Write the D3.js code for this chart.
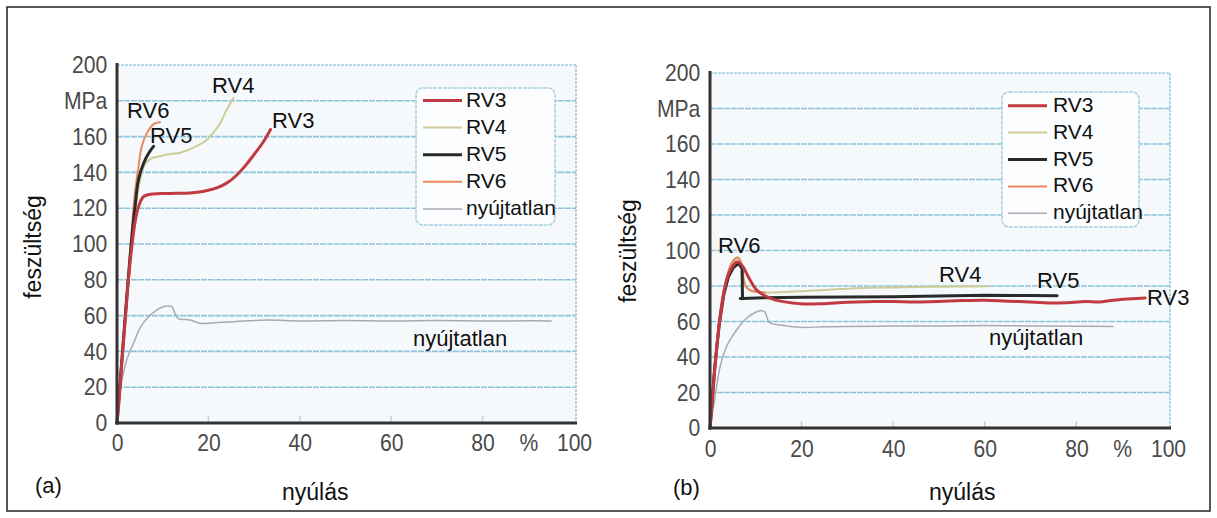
<!DOCTYPE html>
<html><head><meta charset="utf-8">
<script src="https://cdn.jsdelivr.net/npm/d3@7"></script>
<style>
body{margin:0;background:#fff;}
svg{display:block;}
text{font-family:"Liberation Sans", Arial, Helvetica, sans-serif;}
</style></head><body>
<svg id="chart" width="1217" height="518"></svg>
<script>
// ---------- data ----------
const seriesNames = ["RV3", "RV4", "RV5", "RV6", "nyújtatlan"];
const yTicks = [0, 20, 40, 60, 80, 100, 120, 140, 160, 180, 200];
const yTickLabels = ["0", "20", "40", "60", "80", "100", "120", "140", "160", "MPa", "200"];
const xTicks = [0, 20, 40, 60, 80, 90, 100];
const xTickLabels = ["0", "20", "40", "60", "80", "%", "100"];
const panelLetters = ["(a)", "(b)"];
const xTitle = "nyúlás";
const yTitle = "feszültség";

// panel (a): [nyúlás %, feszültség MPa]
const a_RV3 = [[0,0],[0.5,14],[1,32],[1.5,48],[2,64],[2.5,80],[3,93],[3.5,104],[4,113],[4.5,119],[5,123],[5.5,125.5],[6,126.8],[7,127.7],[8,128],[10,128.2],[13,128.3],[16,128.5],[18,129],[20,130],[22,131.5],[24,134],[26,138],[28,143.5],[30,150],[32,157],[33.6,164]];
const a_RV4 = [[0,0],[1,33],[2,66],[3,97],[4,120],[5,135],[6,144],[7,147],[8,148.3],[9.4,149],[11,150],[13.8,151],[16,153],[18,155.5],[19.6,158],[21,162],[22.6,167.6],[24,175],[25.5,181.5]];
const a_RV5 = [[0,0],[1,33],[2,66],[3,97],[4,122],[4.7,136],[5.8,145],[6.9,150.6],[8,154.5]];
const a_RV6 = [[0,0],[1,34],[2,68],[3,100],[3.9,128],[4.7,143],[5.4,154.4],[6.5,161.8],[8,167],[9.4,168]];
const a_NY = [[0,0],[0.3,8],[0.7,18.4],[1.4,28],[2.1,35],[3,41],[3.6,44.5],[5,52.9],[6.9,59.4],[8.7,63.1],[10,64.8],[10.9,65.4],[12,65],[12.7,61.2],[13.4,58.5],[16,57.5],[18.2,55.7],[22,56.2],[25.5,56.6],[32.8,57.5],[40,57],[50,57.3],[60,57],[70,57.2],[80,57],[90,57.1],[95,57]];

// panel (b)
const b_RV3 = [[0,0],[0.5,15],[1,32],[1.5,46],[2,58],[2.5,68],[3,76],[3.5,82],[4,86.5],[5,91.5],[5.8,93.5],[6.5,93],[7.3,90.5],[8,87],[8.75,83.4],[10.2,77.7],[12.4,74],[14,72.3],[16,71.2],[19.7,70],[24,70],[28,70.6],[32,71],[36,71.2],[40,71.2],[45,71],[50,71.3],[55,71.8],[60,72],[65,71.4],[70,71],[75,70.4],[78,70.6],[82,71.2],[85,71],[88,72],[92,72.8],[95,73.3]];
const b_RV4 = [[0,0],[1,34],[2,60],[3,77],[4,88],[5,94],[6,96.3],[6.6,95],[7.2,87],[7.7,80],[8.5,78],[9.5,77],[12.4,76.3],[15,76.5],[19.7,77],[25,77.8],[30,78.5],[35,79],[40,79.2],[45,79.4],[50,79.6],[55,79.7],[61,79.8]];
const b_RV5 = [[0,0],[1,33],[2,58],[3,75],[4,85],[5,90],[6.2,92.8],[7,90],[7.1,72.8],[6.6,73],[7.1,73],[12,73.4],[20,73.6],[30,73.8],[40,74],[50,74.3],[60,74.8],[70,74.6],[75.8,74.5]];
const b_RV6 = [[0,0],[1,35],[2,61],[3,78],[4,88],[5,94],[6,95.8],[6.6,94],[7.2,86],[7.8,80],[8.8,77.5],[10,76.8],[12,76.3]];
const b_NY = [[0,0],[0.5,8],[1.1,17.6],[2.2,34.5],[3.6,45.8],[5.8,55.2],[8,61.8],[10.2,65.5],[11.3,66],[12,65.3],[12.8,60],[13.5,58.8],[15.3,58],[19.7,56.7],[24.8,57],[30,57.2],[39.4,57.4],[50,57.5],[60,57.8],[70,57.5],[80,57.3],[88,57.2]];

// ---------- styles ----------
const styles = {
  "RV3": {color: "#c23a41", width: 3},
  "RV4": {color: "#cfcc98", width: 2},
  "RV5": {color: "#2a2a2a", width: 3},
  "RV6": {color: "#e9895a", width: 2},
  "nyújtatlan": {color: "#a8a9b4", width: 1.5}
};
const drawOrder = ["nyújtatlan", "RV4", "RV6", "RV5", "RV3"];

const svg = d3.select("#chart");
svg.append("rect").attr("x", 7).attr("y", 7).attr("width", 1203).attr("height", 504)
  .attr("fill", "#fff").attr("stroke", "#222").attr("stroke-width", 1.5);

const panels = [
  {
    xr: [117, 574], yr: [423, 65], xPad: 11,
    data: {"RV3": a_RV3, "RV4": a_RV4, "RV5": a_RV5, "RV6": a_RV6, "nyújtatlan": a_NY},
    legend: {x0: 416, y0: 88, x1: 555, y1: 225, lx0: 423, lx1: 462, tx: 466, base: 106.5, step: 27.1},
    ann: {"RV4": [212, 93], "RV6": [127, 118], "RV5": [150, 143], "RV3": [272, 128], "nyújtatlan": [413, 346]},
    letter: [35, 493], xt: [282, 500], yt: [41, 247]
  },
  {
    xr: [710, 1168], yr: [428, 73], xPad: 12,
    data: {"RV3": b_RV3, "RV4": b_RV4, "RV5": b_RV5, "RV6": b_RV6, "nyújtatlan": b_NY},
    legend: {x0: 1002, y0: 92, x1: 1139, y1: 227, lx0: 1008, lx1: 1047, tx: 1053, base: 111.7, step: 26.9},
    ann: {"RV6": [718, 252.7], "RV4": [939, 281.7], "RV5": [1037, 288.3], "RV3": [1147, 305], "nyújtatlan": [989, 345]},
    letter: [673, 495], xt: [929, 500], yt: [636, 251]
  }
];

panels.forEach((p, pi) => {
  const x = d3.scaleLinear().domain([0, 100]).range(p.xr);
  const y = d3.scaleLinear().domain([0, 200]).range(p.yr);
  const g = svg.append("g");

  // plot background
  g.append("rect").attr("x", x(0)).attr("y", y(200)).attr("width", x(100) - x(0) + 2)
    .attr("height", y(0) - y(200)).attr("fill", "#f6f9fb");

  // gridlines
  g.selectAll(".grid").data(yTicks.filter(d => d > 0 && d < 200)).join("line")
    .attr("x1", x(0)).attr("x2", x(100) + 2).attr("y1", d => y(d)).attr("y2", d => y(d))
    .attr("stroke", "#8cc4dc").attr("stroke-width", 1.6).attr("stroke-dasharray", "6,1");
  // top & right border
  g.append("line").attr("x1", x(0)).attr("x2", x(100) + 2).attr("y1", y(200)).attr("y2", y(200))
    .attr("stroke", "#9fcbdf").attr("stroke-width", 1.6).attr("stroke-dasharray", "3,1");
  g.append("line").attr("x1", x(100) + 2).attr("x2", x(100) + 2).attr("y1", y(200)).attr("y2", y(0))
    .attr("stroke", "#9fcbdf").attr("stroke-width", 1.6).attr("stroke-dasharray", "3,1");
  // faint x ticks
  g.selectAll(".xt").data(xTicks.filter(d => d > 0 && d < 90)).join("line")
    .attr("x1", d => x(d)).attr("x2", d => x(d)).attr("y1", y(0)).attr("y2", y(0) - 7)
    .attr("stroke", "#b5d6e4").attr("stroke-width", 1.5);

  // legend
  const L = p.legend;
  g.append("rect").attr("x", L.x0).attr("y", L.y0).attr("width", L.x1 - L.x0).attr("height", L.y1 - L.y0)
    .attr("rx", 7).attr("fill", "#fbfdfe").attr("stroke", "#a6cfe1").attr("stroke-width", 1.5)
    .attr("stroke-dasharray", "4,1");
  seriesNames.forEach((n, i) => {
    const by = L.base + i * L.step;
    g.append("line").attr("x1", L.lx0).attr("x2", L.lx1).attr("y1", by - 6).attr("y2", by - 6)
      .attr("stroke", styles[n].color).attr("stroke-width", styles[n].width);
    g.append("text").attr("x", L.tx).attr("y", by).attr("font-size", 21).attr("fill", "#111").text(n);
  });

  // curves
  const lineGen = d3.line().x(d => x(d[0])).y(d => y(d[1])).curve(d3.curveCatmullRom.alpha(0.5));
  const lineLin = d3.line().x(d => x(d[0])).y(d => y(d[1]));
  drawOrder.forEach(n => {
    const data = p.data[n];
    const gen = (pi === 1 && n === "RV5") ? lineLin : lineGen;
    g.append("path").datum(data).attr("d", gen).attr("fill", "none")
      .attr("stroke", styles[n].color).attr("stroke-width", styles[n].width)
      .attr("stroke-linejoin", "round").attr("stroke-linecap", "round");
  });

  // axes
  const yAxis = d3.axisLeft(y).tickValues(yTicks).tickFormat((d, i) => yTickLabels[i]).tickSize(0).tickPadding(11);
  const ya = g.append("g").attr("transform", `translate(${x(0)},0)`).call(yAxis);
  ya.select(".domain").remove();
  ya.selectAll("text").attr("font-size", 24).attr("fill", "#4a4a4a")
    .attr("font-family", "'Liberation Sans', Arial, sans-serif").attr("transform", "scale(0.88,1)");

  const xAxis = d3.axisBottom(x).tickValues(xTicks).tickFormat((d, i) => xTickLabels[i]).tickSize(0).tickPadding(p.xPad);
  const xa = g.append("g").attr("transform", `translate(0,${y(0)})`).call(xAxis);
  xa.select(".domain").remove();
  xa.selectAll(".tick text").attr("font-size", 24).attr("fill", "#4a4a4a")
    .attr("font-family", "'Liberation Sans', Arial, sans-serif");
  xa.selectAll(".tick").each(function() {
    const t = d3.select(this);
    const tr = t.attr("transform");
    t.select("text").attr("transform", "scale(0.88,1)");
  });

  // axis lines
  g.append("line").attr("x1", x(0)).attr("x2", x(0)).attr("y1", y(0) + 1.5).attr("y2", y(200) - 2)
    .attr("stroke", "#333").attr("stroke-width", 3);
  g.append("line").attr("x1", x(0) - 1.5).attr("x2", x(100) + 3).attr("y1", y(0)).attr("y2", y(0))
    .attr("stroke", "#333").attr("stroke-width", 3);

  // annotations
  Object.entries(p.ann).forEach(([n, pos]) => {
    g.append("text").attr("x", pos[0]).attr("y", pos[1]).attr("font-size", 22).attr("fill", "#111").text(n);
  });
  g.append("text").attr("x", p.letter[0]).attr("y", p.letter[1]).attr("font-size", 22).attr("fill", "#111").text(panelLetters[pi]);
  g.append("text").attr("x", p.xt[0]).attr("y", p.xt[1]).attr("font-size", 23).attr("fill", "#111").text(xTitle);
  g.append("text").attr("transform", `translate(${p.yt[0]},${p.yt[1]}) rotate(-90)`)
    .attr("text-anchor", "middle").attr("font-size", 23).attr("fill", "#111").text(yTitle);
});
</script>
</body></html>
